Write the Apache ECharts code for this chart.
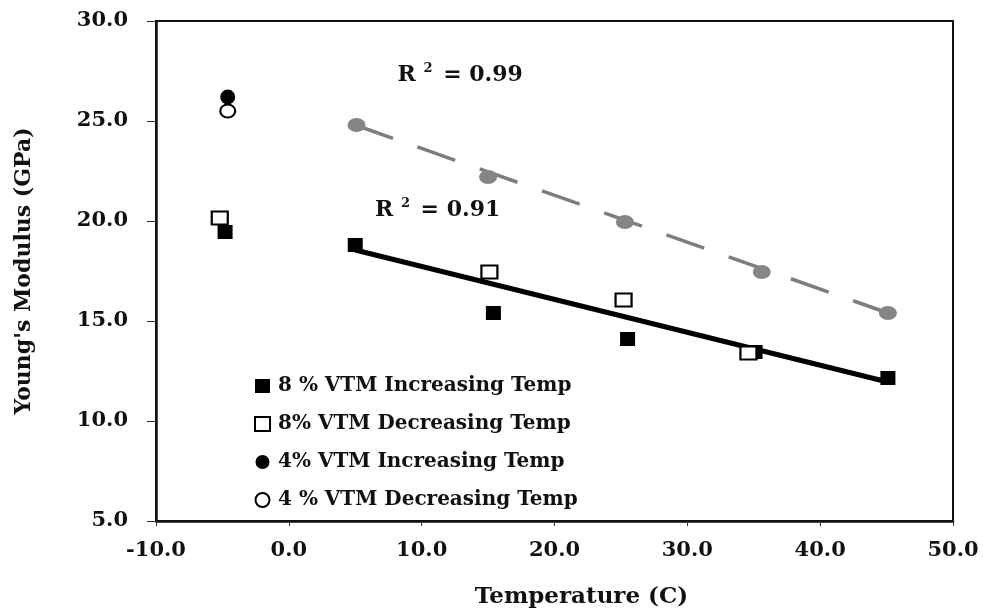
<!DOCTYPE html>
<html>
<head>
<meta charset="utf-8">
<script src="https://cdn.jsdelivr.net/npm/echarts@6/dist/echarts.min.js"></script>
<style>html,body{margin:0;padding:0;background:#fff}#c{width:983px;height:611px}</style>
</head>
<body>
<div id="c"></div>
<script>
// ---- data ----
const xTicks = [-10, 0, 10, 20, 30, 40, 50];
const yTicks = [5, 10, 15, 20, 25, 30];
const inc8 = [[-4.8, 19.45], [5.0, 18.8], [15.4, 15.4], [25.5, 14.1], [35.1, 13.45], [45.1, 12.15]];
const dec8 = [[-5.2, 20.15], [15.1, 17.45], [25.2, 16.05], [34.6, 13.4]];
const inc4 = [[-4.6, 26.2]];
const dec4 = [[-4.6, 25.5]];
const fit4pts = [[5.1, 24.8], [15.0, 22.2], [25.3, 19.95], [35.6, 17.45], [45.1, 15.4]];
const trend8 = [[5.0, 18.55], [45.1, 11.95]];
const trend4 = [[5.0, 24.8], [45.1, 15.4]];
const r2Labels = [[12.9, 27.3, '0.99'], [11.2, 20.55, '0.91']];
const names = ['8 % VTM Increasing Temp', '8% VTM Decreasing Temp', '4% VTM Increasing Temp', '4 % VTM Decreasing Temp'];

const FONT = 'DejaVu Serif';
const chart = echarts.init(document.getElementById('c'), null, {renderer: 'canvas'});
chart.setOption({
  animation: false,
  backgroundColor: '#fff',
  grid: {left: 156, right: 30, top: 21, bottom: 90, show: true, borderColor: '#111', borderWidth: 2, outerBoundsMode: 'none', containLabel: false},
  xAxis: {
    type: 'value', min: xTicks[0], max: xTicks[xTicks.length - 1], interval: 10,
    name: 'Temperature (C)', nameLocation: 'middle', nameGap: 65,
    nameTextStyle: {fontFamily: FONT, fontWeight: 'bold', fontSize: 23, color: '#111', padding: [0, 0, 0, 54]},
    axisLine: {onZero: false, lineStyle: {color: '#111', width: 2.5}},
    axisTick: {show: true, length: 5, lineStyle: {color: '#333', width: 1}},
    axisLabel: {margin: 19, fontFamily: FONT, fontWeight: 'bold', fontSize: 21, color: '#111', formatter: v => v.toFixed(1)},
    splitLine: {show: false}
  },
  yAxis: {
    type: 'value', min: yTicks[0], max: yTicks[yTicks.length - 1], interval: 5,
    name: "Young's Modulus (GPa)", nameLocation: 'middle', nameGap: 121,
    nameTextStyle: {fontFamily: FONT, fontWeight: 'bold', fontSize: 22, color: '#111'},
    axisLine: {onZero: false, lineStyle: {color: '#111', width: 2.5}},
    axisTick: {show: true, length: 9, lineStyle: {color: '#333', width: 1}},
    axisLabel: {margin: 28, fontFamily: FONT, fontWeight: 'bold', fontSize: 21, color: '#111', formatter: v => v.toFixed(1)},
    splitLine: {show: false}
  },
  legend: {
    left: 249, top: 371, orient: 'vertical', itemGap: 18, itemWidth: 15, itemHeight: 14,
    data: names,
    textStyle: {fontFamily: FONT, fontWeight: 'bold', fontSize: 20, color: '#111', padding: [0, 0, 0, 3]}
  },
  series: [
    {type: 'line', name: 'trend4', data: trend4, symbol: 'none', silent: true,
     lineStyle: {color: '#7d7d7d', width: 3.5, type: [40, 26]}, z: 1},
    {type: 'line', name: 'trend8', data: trend8, symbol: 'none', silent: true,
     lineStyle: {color: '#000', width: 5}, z: 1},
    {type: 'scatter', name: 'fit4', data: fit4pts, symbol: 'circle', symbolSize: [18, 14],
     itemStyle: {color: '#858585', opacity: 1}, z: 3},
    {type: 'scatter', name: names[0], data: inc8, symbol: 'rect', symbolSize: [15, 14],
     itemStyle: {color: '#000', opacity: 1}, z: 4},
    {type: 'scatter', name: names[1], data: dec8, symbol: 'rect', symbolSize: [16, 13],
     itemStyle: {color: '#fff', borderColor: '#000', borderWidth: 2, opacity: 1}, z: 4},
    {type: 'scatter', name: names[2], data: inc4, symbol: 'circle', symbolSize: 15,
     itemStyle: {color: '#000', opacity: 1}, z: 4},
    {type: 'scatter', name: names[3], data: dec4, symbol: 'circle', symbolSize: [15, 13],
     itemStyle: {color: '#fff', borderColor: '#000', borderWidth: 2, opacity: 1}, z: 4},
    {type: 'scatter', name: 'r2', data: r2Labels, symbolSize: 0, silent: true, z: 5,
     itemStyle: {opacity: 1},
     label: {show: true, position: 'inside', opacity: 1,
       formatter: p => '{b|R }{s|2}{b| = ' + p.data[2] + '}',
       rich: {
         b: {fontFamily: FONT, fontWeight: 'bold', fontSize: 22, color: '#111'},
         s: {fontFamily: FONT, fontWeight: 'bold', fontSize: 13, color: '#111', padding: [0, 3, 12, 0]}
       }}}
  ]
});
</script>
</body>
</html>
